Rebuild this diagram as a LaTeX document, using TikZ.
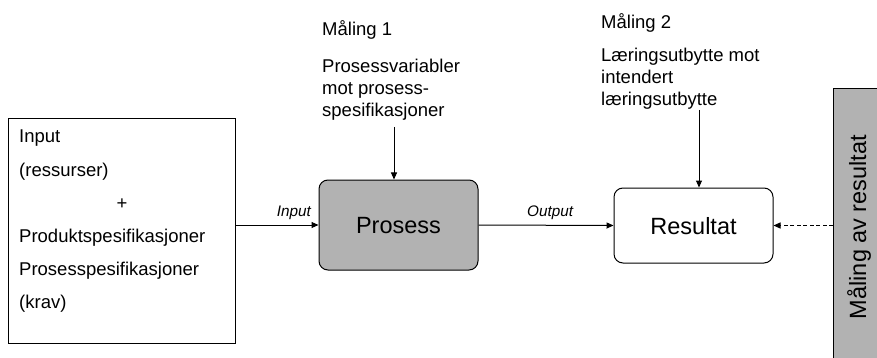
\documentclass[tikz,border=0pt]{standalone}
\usepackage{fontspec}
\setmainfont{Liberation Sans}
\usetikzlibrary{arrows.meta}
\definecolor{boxgray}{RGB}{178,178,178}
\begin{document}
\begin{tikzpicture}[x=1pt,y=-1pt,
  txt/.style={inner sep=0pt, font=\fontsize{18.5}{22}\selectfont},
  lbl/.style={inner sep=0pt, font=\fontsize{15.3}{18}\selectfont\itshape},
  big/.style={inner sep=0pt, font=\fontsize{23.5}{28}\selectfont},
  arr/.style={line width=1pt, -{Triangle[length=7pt,width=6pt]}},
  stage/.style={draw, line width=1pt, rounded corners=9pt, minimum width=159pt}
]
\clip (0,0) rectangle (877,358);
\fill[white] (0,0) rectangle (877,358);

% left input box
\node[draw, line width=1pt, minimum width=227pt, minimum height=224pt, inner sep=0pt] (inbox) at (121.5,231) {};
\node[txt, anchor=base west] (t1) at (19,143) {Input};
\node[txt, anchor=base west] (t2) at (19,176) {(ressurser)};
\node[txt, anchor=base] (t3) at (122,209) {+};
\node[txt, anchor=base west] (t4) at (19,242) {Produktspesifikasjoner};
\node[txt, anchor=base west] (t5) at (19,275) {Prosesspesifikasjoner};
\node[txt, anchor=base west] (t6) at (19,308) {(krav)};

% process
\node[stage, fill=boxgray, minimum height=90pt] (prosess) at (398.5,225) {};
\node[big] (prosesstxt) at (398.5,226) {Prosess};

% result
\node[stage, fill=white, minimum height=75pt] (resultat) at (693.5,225.5) {};
\node[big] (resultattxt) at (693.5,226) {Resultat};

% measurement bar
\node[draw, line width=1pt, fill=boxgray, minimum width=50pt, minimum height=275pt, inner sep=0pt, anchor=north west] (bar) at (833,88) {};
\node[big, rotate=90] (bartxt) at (859,227) {Måling av resultat};

% measurement texts
\node[txt, anchor=base west] (m1) at (322,36) {Måling 1};
\node[txt, anchor=base west, align=left] (m1b) at (322,117) {Prosessvariabler\\mot prosess-\\spesifikasjoner};
\node[txt, anchor=base west] (m2) at (601,29) {Måling 2};
\node[txt, anchor=base west, align=left] (m2b) at (601,106) {Læringsutbytte mot\\intendert\\læringsutbytte};

% connector labels
\node[lbl, anchor=base east] (inlbl) at (311,216) {Input};
\node[lbl, anchor=base west] (outlbl) at (527,216) {Output};

% connectors
\coordinate (c1) at (394,127);
\coordinate (c2) at (699,110);
\draw[arr] (c1) -- (c1 |- prosess.north);
\draw[arr] (c2) -- (c2 |- resultat.north);
\draw[arr] (inbox.east |- prosess.west) -- (prosess.west);
\draw[arr] (prosess.east) -- (resultat.west);
\draw[arr, dash pattern=on 4pt off 2.5pt] (bar.west |- resultat.east) -- (resultat.east);
\end{tikzpicture}
\end{document}
